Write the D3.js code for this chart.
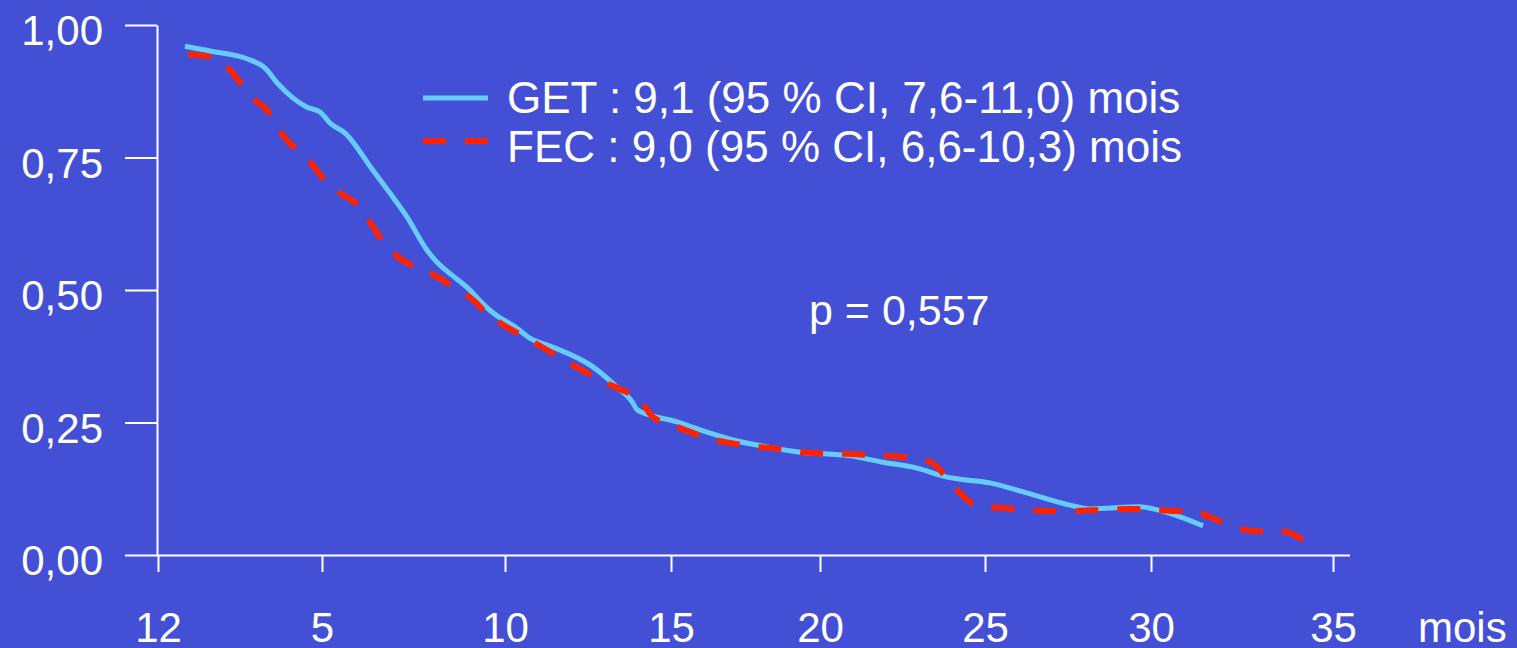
<!DOCTYPE html>
<html>
<head>
<meta charset="utf-8">
<script src="https://cdn.jsdelivr.net/npm/d3@7"></script>
<style>
body{margin:0;background:#4350d6;}
svg{display:block;}
</style>
</head>
<body>
<div id="svgContainer"></div>
<script>
// survival curves (months, proportion)
var getMonths = [0.82,1.59,2.81,3.26,3.63,4.12,4.54,4.94,5.22,5.63,6.39,6.94,7.32,7.87,8.22,8.55,9.04,9.24,9.67,10.36,10.75,11.45,12.65,13.37,13.83,13.98,14.37,15.2,15.97,17.08,18.22,19.33,20.91,21.91,22.94,23.85,24.24,25.15,26.15,27.56,28.16,29.67,30.06,30.8,31.43];
var getSurv = [0.960,0.951,0.934,0.919,0.891,0.862,0.845,0.836,0.815,0.796,0.726,0.675,0.638,0.575,0.547,0.528,0.500,0.485,0.457,0.428,0.409,0.392,0.355,0.317,0.289,0.274,0.264,0.251,0.236,0.217,0.204,0.194,0.187,0.175,0.164,0.147,0.143,0.136,0.119,0.094,0.087,0.091,0.087,0.072,0.055];
var fecMonths = [0.92,1.59,2.2,2.56,3.02,3.32,3.48,3.81,4.24,4.63,5.03,5.49,5.98,6.31,6.67,7.08,7.6,8.14,8.63,9.13,9.54,10.06,10.6,11.15,11.66,12.32,12.86,13.46,14.07,14.46,15.07,15.74,16.48,17.22,17.92,18.66,19.4,20.09,20.76,21.42,22.06,22.73,23.39,23.85,24.24,24.85,25.45,26.81,27.47,29.43,30.66,31.21,31.81,32.36,32.94,33.54,34.09,34.37];
var fecSurv = [0.945,0.940,0.915,0.887,0.855,0.840,0.825,0.792,0.764,0.742,0.711,0.683,0.660,0.628,0.591,0.562,0.542,0.525,0.504,0.481,0.453,0.430,0.411,0.391,0.372,0.349,0.330,0.313,0.292,0.260,0.245,0.230,0.217,0.209,0.204,0.200,0.194,0.192,0.191,0.189,0.187,0.183,0.174,0.145,0.117,0.091,0.089,0.083,0.083,0.087,0.083,0.081,0.066,0.051,0.045,0.045,0.032,0.000];

var xTicks = [0,5,10,15,20,25,30,35];
var xTickLabels = ["12","5","10","15","20","25","30","35"];
var yTicks = [0,0.25,0.5,0.75,1];
var yTickLabels = ["0,00","0,25","0,50","0,75","1,00"];
var seriesNames = ["GET : 9,1 (95 % CI, 7,6-11,0) mois","FEC : 9,0 (95 % CI, 6,6-10,3) mois"];
var pLabel = "p = 0,557";
var xUnit = "mois";

var svgWidth = 1517;
var svgHeight = 648;
var bg = "#4350d6";
var colors = ["#66ccff","#ff2200"];
var font = "'Liberation Sans', Arial, sans-serif";
// the original axis is hand spaced, ticks sit where they were drawn
var xStops = [158,322,505,671,820,985,1151,1333];
var axisX = 157, plotTop = 25, plotBottom = 555;

var svg = d3.select("#svgContainer").append("svg")
	.attr("width",svgWidth)
	.attr("height",svgHeight)
	.style("background-color",bg);

var x = d3.scaleLinear().domain(xTicks).range(xStops);
var y = d3.scaleLinear().domain([0,1]).range([plotBottom,plotTop]);

// y axis
var yAxis = svg.append("g")
	.attr("id","yaxis")
	.attr("transform","translate("+axisX+",0)")
	.call(d3.axisLeft(y).tickValues(yTicks)
		.tickFormat(function(d,i){ return yTickLabels[i]; })
		.tickSizeInner(32).tickSizeOuter(0).tickPadding(22));
yAxis.attr("font-size",42).attr("font-family",font);
yAxis.selectAll("path,line").attr("stroke","#fff").attr("stroke-width",2);
yAxis.selectAll("text").attr("fill","#fff").attr("dy","0.47em");

// x axis
var xAxis = svg.append("g")
	.attr("id","xaxis")
	.attr("transform","translate(0,"+plotBottom+")")
	.call(d3.axisBottom(x).tickValues(xTicks)
		.tickFormat(function(d,i){ return xTickLabels[i]; })
		.tickSizeInner(17).tickSizeOuter(0).tickPadding(40));
xAxis.attr("font-size",42).attr("font-family",font);
xAxis.select(".domain").remove();
xAxis.selectAll("line").attr("stroke","#fff").attr("stroke-width",2);
xAxis.selectAll("text").attr("fill","#fff");
xAxis.append("line")
	.attr("x1",axisX).attr("x2",x(35)+17)
	.attr("y1",0.5).attr("y2",0.5)
	.attr("stroke","#fff").attr("stroke-width",2);

svg.append("text")
	.attr("x",x(35)+85)
	.attr("y",plotBottom+87)
	.attr("font-family",font)
	.attr("font-size",42)
	.attr("fill","#fff")
	.text(xUnit);

// curves
var line = d3.line()
	.x(function(d){ return x(d[0]); })
	.y(function(d){ return y(d[1]); })
	.curve(d3.curveMonotoneX);

svg.append("path")
	.datum(d3.zip(getMonths,getSurv))
	.attr("d",line)
	.attr("fill","none")
	.attr("stroke",colors[0])
	.attr("stroke-width",5);

svg.append("path")
	.datum(d3.zip(fecMonths,fecSurv))
	.attr("d",line)
	.attr("fill","none")
	.attr("stroke",colors[1])
	.attr("stroke-width",6)
	.attr("stroke-dasharray","23,19");

// legend
var legendRows = [{ly:98,ty:113},{ly:141,ty:162}];
var legend = svg.selectAll(".legend")
	.data(seriesNames)
	.enter().append("g")
	.attr("class","legend");

legend.append("line")
	.attr("x1",423).attr("x2",488)
	.attr("y1",function(d,i){ return legendRows[i].ly; })
	.attr("y2",function(d,i){ return legendRows[i].ly; })
	.attr("stroke",function(d,i){ return colors[i]; })
	.attr("stroke-width",function(d,i){ return i ? 6 : 5; })
	.attr("stroke-dasharray",function(d,i){ return i ? "23,19" : null; });

legend.append("text")
	.attr("x",507)
	.attr("y",function(d,i){ return legendRows[i].ty; })
	.attr("font-family",font)
	.attr("font-size",44)
	.attr("fill","#fff")
	.text(function(d){ return d; });

svg.append("text")
	.attr("x",809)
	.attr("y",325)
	.attr("font-family",font)
	.attr("font-size",43)
	.attr("fill","#fff")
	.text(pLabel);
</script>
</body>
</html>
